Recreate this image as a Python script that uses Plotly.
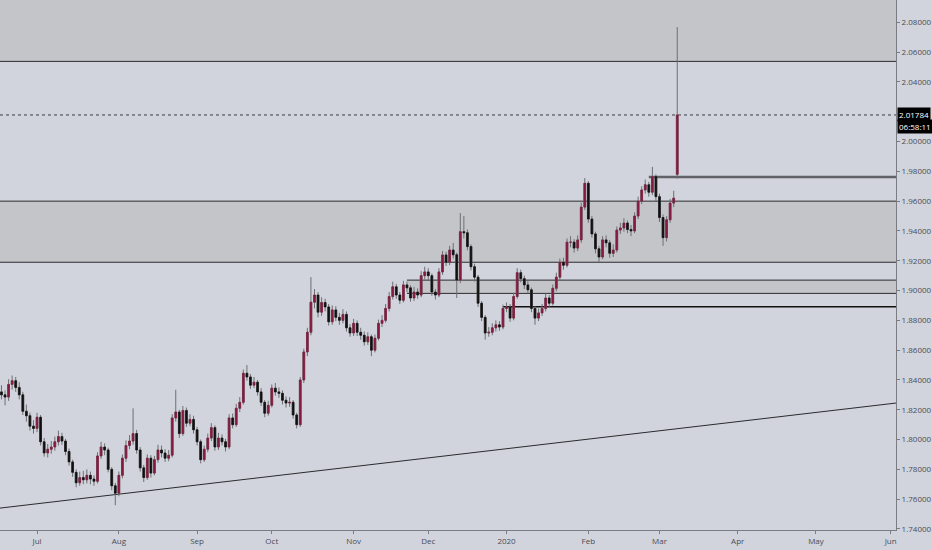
import numpy as np
import pandas as pd
import plotly.graph_objects as go

# daily candles, weekdays from 2019-06-17 to 2020-03-09
dates = pd.bdate_range("2019-06-17", "2020-03-09")

opens = [
    1.8320, 1.8300, 1.8285, 1.8370, 1.8395, 1.8350, 1.8300, 1.8190, 1.8160, 1.8090,
    1.8075, 1.8150, 1.7985, 1.7910, 1.7935, 1.7950, 1.7985, 1.8020, 1.7990, 1.7920,
    1.7850, 1.7780, 1.7710, 1.7745, 1.7730, 1.7760, 1.7735, 1.7720, 1.7890, 1.7950,
    1.7930, 1.7800, 1.7690, 1.7640, 1.7760, 1.7875, 1.7960, 1.7990, 1.8040, 1.7930,
    1.7810, 1.7745, 1.7875, 1.7775, 1.7865, 1.7930, 1.7910, 1.7875, 1.7895, 1.8145,
    1.8185, 1.8040, 1.8195, 1.8110, 1.8135, 1.8066, 1.7985, 1.7865, 1.7935, 1.8010,
    1.8080, 1.7950, 1.8010, 1.7985, 1.7950, 1.8145, 1.8100, 1.8210, 1.8250, 1.8445,
    1.8420, 1.8365, 1.8385, 1.8320, 1.8250, 1.8177, 1.8230, 1.8345, 1.8320, 1.8310,
    1.8264, 1.8245, 1.8250, 1.8165, 1.8100, 1.8400, 1.8588, 1.8720, 1.8922, 1.8970,
    1.8855, 1.8920, 1.8890, 1.8790, 1.8870, 1.8820, 1.8800, 1.8840, 1.8750, 1.8715,
    1.8780, 1.8720, 1.8700, 1.8656, 1.8690, 1.8600, 1.8680, 1.8780, 1.8800, 1.8880,
    1.8960, 1.9025, 1.8970, 1.8935, 1.9038, 1.9018, 1.8950, 1.8990, 1.8970, 1.9100,
    1.9125, 1.9100, 1.8990, 1.8970, 1.9125, 1.9239, 1.9190, 1.9272, 1.9240, 1.9070,
    1.9395, 1.9388, 1.9295, 1.9160, 1.9090, 1.8915, 1.8820, 1.8715, 1.8720, 1.8750,
    1.8770, 1.8755, 1.8880, 1.8890, 1.8815, 1.8960, 1.9120, 1.9080, 1.9038, 1.9005,
    1.8880, 1.8815, 1.8850, 1.8880, 1.8950, 1.8915, 1.9015, 1.9090, 1.9190, 1.9170,
    1.9325, 1.9325, 1.9285, 1.9340, 1.9560, 1.9720, 1.9480, 1.9380, 1.9280, 1.9225,
    1.9340, 1.9320, 1.9250, 1.9272, 1.9406, 1.9420, 1.9453, 1.9410, 1.9400, 1.9500,
    1.9600, 1.9675, 1.9710, 1.9660, 1.9765, 1.9630, 1.9490, 1.9355, 1.9475, 1.9587,
    1.9780,
]

highs = [
    1.8365, 1.8330, 1.8405, 1.8430, 1.8420, 1.8385, 1.8320, 1.8235, 1.8180, 1.8130,
    1.8180, 1.8165, 1.8010, 1.7970, 1.7990, 1.8020, 1.8060, 1.8045, 1.8005, 1.7940,
    1.7865, 1.7800, 1.7785, 1.7790, 1.7800, 1.7785, 1.7760, 1.7915, 1.7985, 1.7975,
    1.7945, 1.7815, 1.7710, 1.7785, 1.7900, 1.7995, 1.8030, 1.8210, 1.8065, 1.7950,
    1.7830, 1.7900, 1.7895, 1.7890, 1.7965, 1.7960, 1.7935, 1.7930, 1.8170, 1.8334,
    1.8200, 1.8225, 1.8215, 1.8170, 1.8160, 1.8085, 1.8000, 1.7960, 1.8040, 1.8110,
    1.8095, 1.8045, 1.8035, 1.8005, 1.8170, 1.8175, 1.8240, 1.8285, 1.8470, 1.8500,
    1.8440, 1.8420, 1.8400, 1.8345, 1.8265, 1.8260, 1.8370, 1.8380, 1.8350, 1.8330,
    1.8290, 1.8285, 1.8265, 1.8180, 1.8420, 1.8610, 1.8750, 1.9090, 1.9010, 1.8990,
    1.8955, 1.8945, 1.8910, 1.8900, 1.8895, 1.8850, 1.8875, 1.8860, 1.8775, 1.8810,
    1.8800, 1.8750, 1.8725, 1.8720, 1.8705, 1.8705, 1.8805, 1.8835, 1.8910, 1.8990,
    1.9060, 1.9045, 1.8990, 1.9065, 1.9060, 1.9035, 1.9025, 1.9015, 1.9130, 1.9160,
    1.9150, 1.9115, 1.9010, 1.9150, 1.9265, 1.9260, 1.9300, 1.9320, 1.9255, 1.9520,
    1.9500, 1.9410, 1.9310, 1.9180, 1.9105, 1.8930, 1.8835, 1.8755, 1.8780, 1.8800,
    1.8795, 1.8905, 1.8920, 1.8910, 1.8985, 1.9150, 1.9140, 1.9100, 1.9065, 1.9020,
    1.8895, 1.8880, 1.8910, 1.8980, 1.8970, 1.9040, 1.9120, 1.9215, 1.9220, 1.9350,
    1.9365, 1.9345, 1.9370, 1.9590, 1.9755, 1.9735, 1.9500, 1.9395, 1.9300, 1.9365,
    1.9370, 1.9340, 1.9310, 1.9430, 1.9455, 1.9485, 1.9470, 1.9440, 1.9525, 1.9630,
    1.9700, 1.9745, 1.9730, 1.9830, 1.9780, 1.9650, 1.9510, 1.9500, 1.9615, 1.9670,
    2.0768,
]

lows = [
    1.8270, 1.8230, 1.8260, 1.8335, 1.8320, 1.8270, 1.8165, 1.8120, 1.8060, 1.8040,
    1.8050, 1.7960, 1.7885, 1.7880, 1.7905, 1.7925, 1.7960, 1.7965, 1.7895, 1.7825,
    1.7750, 1.7680, 1.7690, 1.7700, 1.7705, 1.7700, 1.7690, 1.7705, 1.7870, 1.7895,
    1.7780, 1.7660, 1.7560, 1.7620, 1.7740, 1.7850, 1.7935, 1.7965, 1.7905, 1.7785,
    1.7715, 1.7730, 1.7745, 1.7760, 1.7845, 1.7880, 1.7850, 1.7855, 1.7880, 1.8120,
    1.8010, 1.8025, 1.8085, 1.8090, 1.8040, 1.7960, 1.7840, 1.7850, 1.7915, 1.7990,
    1.7925, 1.7930, 1.7960, 1.7920, 1.7935, 1.8075, 1.8085, 1.8185, 1.8235, 1.8395,
    1.8340, 1.8345, 1.8295, 1.8225, 1.8150, 1.8160, 1.8215, 1.8295, 1.8280, 1.8235,
    1.8215, 1.8220, 1.8140, 1.8075, 1.8085, 1.8380, 1.8560, 1.8700, 1.8880, 1.8820,
    1.8830, 1.8860, 1.8765, 1.8770, 1.8795, 1.8770, 1.8780, 1.8725, 1.8690, 1.8695,
    1.8695, 1.8670, 1.8630, 1.8635, 1.8560, 1.8585, 1.8665, 1.8755, 1.8785, 1.8860,
    1.8940, 1.8945, 1.8910, 1.8920, 1.8990, 1.8925, 1.8930, 1.8945, 1.8955, 1.9075,
    1.9070, 1.8965, 1.8940, 1.8955, 1.9105, 1.9165, 1.9170, 1.9215, 1.8950, 1.9050,
    1.9350, 1.9270, 1.9135, 1.9060, 1.8890, 1.8795, 1.8670, 1.8690, 1.8700, 1.8725,
    1.8730, 1.8740, 1.8855, 1.8790, 1.8800, 1.8945, 1.9055, 1.9010, 1.8980, 1.8855,
    1.8770, 1.8795, 1.8830, 1.8860, 1.8890, 1.8900, 1.8995, 1.9070, 1.9140, 1.9155,
    1.9290, 1.9255, 1.9265, 1.9320, 1.9540, 1.9455, 1.9355, 1.9250, 1.9190, 1.9210,
    1.9290, 1.9220, 1.9225, 1.9255, 1.9380, 1.9395, 1.9385, 1.9365, 1.9385, 1.9480,
    1.9580, 1.9650, 1.9630, 1.9640, 1.9600, 1.9460, 1.9300, 1.9330, 1.9455, 1.9560,
    1.9750,
]

closes = [
    1.8300, 1.8285, 1.8370, 1.8395, 1.8350, 1.8300, 1.8190, 1.8160, 1.8090, 1.8075,
    1.8150, 1.7985, 1.7910, 1.7935, 1.7950, 1.7985, 1.8020, 1.7990, 1.7920, 1.7850,
    1.7780, 1.7710, 1.7745, 1.7730, 1.7760, 1.7735, 1.7720, 1.7890, 1.7950, 1.7930,
    1.7800, 1.7690, 1.7640, 1.7760, 1.7875, 1.7960, 1.7990, 1.8040, 1.7930, 1.7810,
    1.7745, 1.7875, 1.7775, 1.7865, 1.7930, 1.7910, 1.7875, 1.7895, 1.8145, 1.8185,
    1.8040, 1.8195, 1.8110, 1.8135, 1.8066, 1.7985, 1.7865, 1.7935, 1.8010, 1.8080,
    1.7950, 1.8010, 1.7985, 1.7950, 1.8145, 1.8100, 1.8210, 1.8250, 1.8445, 1.8420,
    1.8365, 1.8385, 1.8320, 1.8250, 1.8177, 1.8230, 1.8345, 1.8320, 1.8310, 1.8264,
    1.8245, 1.8250, 1.8165, 1.8100, 1.8400, 1.8588, 1.8720, 1.8922, 1.8970, 1.8855,
    1.8920, 1.8890, 1.8790, 1.8870, 1.8820, 1.8800, 1.8840, 1.8750, 1.8715, 1.8780,
    1.8720, 1.8700, 1.8656, 1.8690, 1.8600, 1.8680, 1.8780, 1.8800, 1.8880, 1.8960,
    1.9025, 1.8970, 1.8935, 1.9038, 1.9018, 1.8950, 1.8990, 1.8970, 1.9100, 1.9125,
    1.9100, 1.8990, 1.8970, 1.9125, 1.9239, 1.9190, 1.9272, 1.9240, 1.9070, 1.9395,
    1.9388, 1.9295, 1.9160, 1.9090, 1.8915, 1.8820, 1.8715, 1.8720, 1.8750, 1.8770,
    1.8755, 1.8880, 1.8890, 1.8815, 1.8960, 1.9120, 1.9080, 1.9038, 1.9005, 1.8880,
    1.8815, 1.8850, 1.8880, 1.8950, 1.8915, 1.9015, 1.9090, 1.9190, 1.9170, 1.9325,
    1.9325, 1.9285, 1.9340, 1.9560, 1.9720, 1.9480, 1.9380, 1.9280, 1.9225, 1.9340,
    1.9320, 1.9250, 1.9272, 1.9406, 1.9420, 1.9453, 1.9410, 1.9400, 1.9500, 1.9600,
    1.9675, 1.9710, 1.9660, 1.9765, 1.9630, 1.9490, 1.9355, 1.9475, 1.9587, 1.9620,
    2.01784,
]

last_price = 2.01784
countdown = "06:58:11"

# drawn levels
top_zone = 2.0538
mid_zone = (1.9190, 1.9600)
small_box = (1.8981, 1.9070)
small_box_start = "2019-11-22"
ray_level = 1.9762
ray_start = "2020-02-26"
support_level = 1.8891
support_start = "2019-12-31"
trend = (1.7540, 1.8245)

month_ticks = ["2019-07-01", "2019-08-01", "2019-09-02", "2019-10-01", "2019-11-01", "2019-12-02",
               "2020-01-01", "2020-02-03", "2020-03-02", "2020-04-01", "2020-05-01", "2020-06-01"]
month_labels = ["Jul", "Aug", "Sep", "Oct", "Nov", "Dec", "2020", "Feb", "Mar", "Apr", "May", "Jun"]

# 2.02 is hidden behind the last-price tag
price_ticks = [1.74, 1.76, 1.78, 1.80, 1.82, 1.84, 1.86, 1.88, 1.90, 1.92, 1.94, 1.96, 1.98,
               2.00, 2.04, 2.06, 2.08]

BG = '#d1d4dc'
ZONE = '#c4c5c9'
UP = '#861b3f'
DOWN = '#111111'
WICK = '#6e6f73'
LINE = '#2a2b2f'
X_START = "2019-06-14 14:00"
X_END = "2020-06-02 12:00"

o = np.array(opens)
c = np.array(closes)

fig = go.Figure()
# wicks (grey)
fig.add_trace(go.Candlestick(
    x=dates, open=opens, high=highs, low=lows, close=closes,
    increasing=dict(line=dict(color=WICK, width=1), fillcolor=WICK),
    decreasing=dict(line=dict(color=WICK, width=1), fillcolor=WICK),
    whiskerwidth=0, hoverinfo='skip', showlegend=False))
# bodies
fig.add_trace(go.Candlestick(
    x=dates, open=opens, high=np.maximum(o, c), low=np.minimum(o, c), close=closes,
    increasing=dict(line=dict(color=UP, width=0.6), fillcolor=UP),
    decreasing=dict(line=dict(color=DOWN, width=0.6), fillcolor=DOWN),
    whiskerwidth=0, showlegend=False))


def hline(y, x0=0, x1=1, xref='paper', color=LINE, width=1, dash='solid'):
    return dict(type='line', xref=xref, x0=x0, x1=x1, yref='y', y0=y, y1=y,
                line=dict(color=color, width=width, dash=dash), layer='below')


shapes = [
    dict(type='rect', xref='paper', x0=0, x1=1, yref='y', y0=top_zone, y1=2.2,
         fillcolor=ZONE, line_width=0, layer='below'),
    hline(top_zone),
    dict(type='rect', xref='paper', x0=0, x1=1, yref='y', y0=mid_zone[0], y1=mid_zone[1],
         fillcolor=ZONE, line_width=0, layer='below'),
    hline(mid_zone[0]),
    hline(mid_zone[1]),
    dict(type='rect', xref='x', x0=small_box_start, x1=X_END, yref='y', y0=small_box[0], y1=small_box[1],
         fillcolor=ZONE, line_width=0, layer='below'),
    hline(small_box[0], small_box_start, X_END, 'x'),
    hline(small_box[1], small_box_start, X_END, 'x'),
    hline(support_level, support_start, X_END, 'x', color='#111111', width=1.5),
    hline(ray_level, ray_start, X_END, 'x', color='#606267', width=2.5),
    dict(type='line', xref='paper', x0=0, x1=1, yref='y', y0=trend[0], y1=trend[1],
         line=dict(color=LINE, width=1), layer='below'),
    hline(last_price, color='#3a3b40', dash='dot'),
]

fig.update_layout(
    width=932, height=550,
    margin=dict(l=0, r=36, t=0, b=20, autoexpand=False),
    plot_bgcolor=BG, paper_bgcolor=BG,
    shapes=shapes,
    showlegend=False,
    font=dict(family='Open Sans', size=8, color='#4a4c55'),
    xaxis=dict(
        type='date', range=[X_START, X_END],
        rangebreaks=[dict(bounds=['sat', 'mon'])],
        rangeslider=dict(visible=False),
        tickvals=month_ticks, ticktext=month_labels,
        showgrid=False, zeroline=False, automargin=False,
        showline=True, linecolor='#7a7c84', linewidth=1,
        ticks='outside', ticklen=3, tickcolor='#7a7c84',
        tickfont=dict(size=8, color='#4a4c55'),
    ),
    yaxis=dict(
        side='right', range=[1.7393, 2.095],
        tickvals=price_ticks, tickformat='.5f',
        showgrid=False, zeroline=False, automargin=False,
        showline=True, linecolor='#7a7c84', linewidth=1,
        ticks='outside', ticklen=3, tickcolor='#7a7c84',
        tickfont=dict(size=8, color='#4a4c55'),
    ),
)

fig.add_annotation(xref='paper', x=1, xanchor='left', xshift=1, yref='y', y=last_price,
                   text='2.01784', showarrow=False, bgcolor='#000000',
                   font=dict(color='#ffffff', size=8), borderpad=1)
fig.add_annotation(xref='paper', x=1, xanchor='left', xshift=1, yref='y', y=last_price, yshift=-12,
                   text=countdown, showarrow=False, bgcolor='#000000',
                   font=dict(color='#ffffff', size=8), borderpad=1)

# the page body has a default 8px margin; drop it so the figure fills the window
fig.write_html("out.html", config={'displayModeBar': False},
               post_script="document.body.style.margin = '0';")
